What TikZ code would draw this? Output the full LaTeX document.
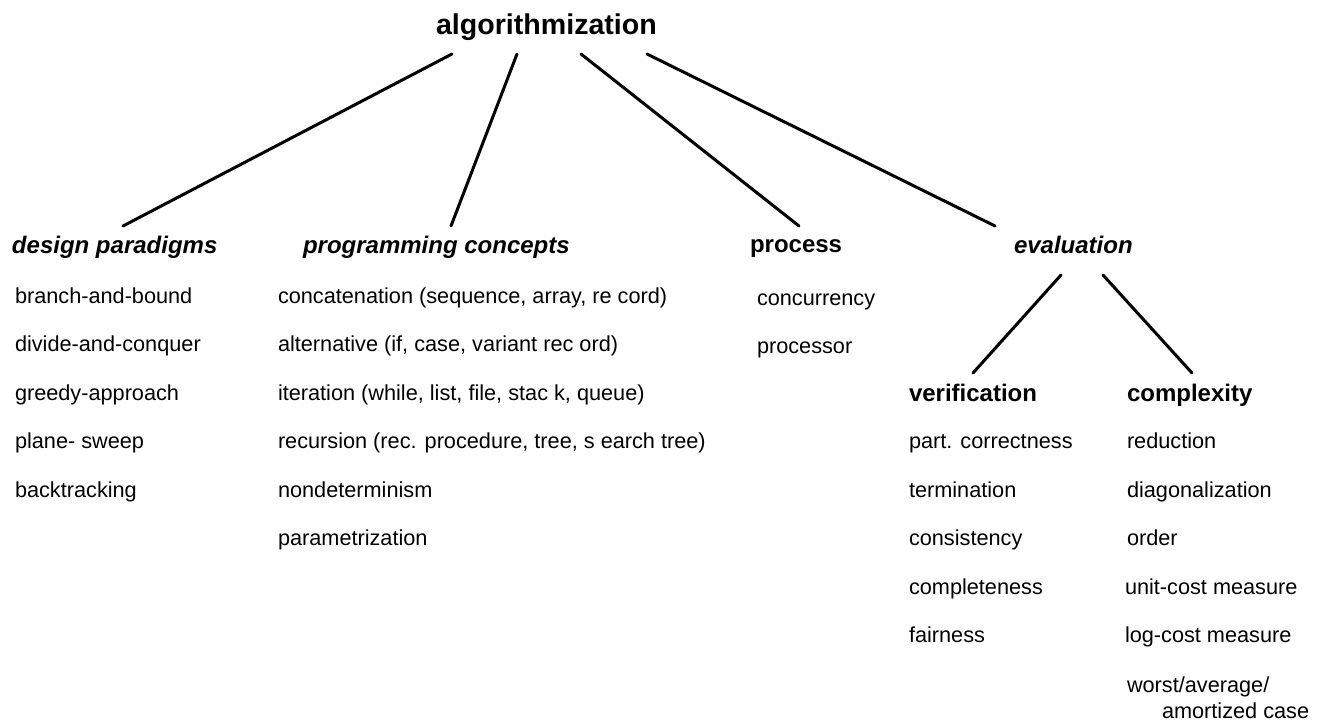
\documentclass[tikz,border=0pt]{standalone}
\usepackage{fontspec}
\setmainfont{Liberation Sans}
\usetikzlibrary{calc}
\tikzset{
  txt/.style={anchor=base west, inner sep=0pt, outer sep=0pt},
  rootlabel/.style={txt, font=\fontsize{28.6}{32}\selectfont\bfseries},
  headit/.style={txt, font=\fontsize{24}{28}\selectfont\bfseries\itshape},
  headup/.style={txt, font=\fontsize{24}{28}\selectfont\bfseries},
  entry/.style={txt, font=\fontsize{21.7}{26}\selectfont},
  branch/.style={line width=3pt, line cap=round}
}
\begin{document}
\begin{tikzpicture}[x=1pt, y=-1pt]
\useasboundingbox (0,0) rectangle (1323,726);

% root
\node[rootlabel] (root) at (436,34) {algorithmization};

% first level
\node[headit] (dp) at (12,253) {design paradigms};
\node[headit] (pc) at (303,253) {programming concepts};
\node[headup] (pr) at (750,252) {process};
\node[headit] (ev) at (1014,253) {evaluation};

% second level under evaluation
\node[headup] (ve) at (909,401) {verification};
\node[headup] (co) at (1127,401) {complexity};

% connectors
\draw[branch] ($(root.base west)+(16,20)$)  -- ($(dp.base west)+(111,-27)$);
\draw[branch] ($(root.base west)+(81,20)$)  -- ($(pc.base west)+(148,-27)$);
\draw[branch] ($(root.base west)+(145,20)$) -- ($(pr.base west)+(49,-26)$);
\draw[branch] ($(root.base west)+(211,20)$) -- ($(ev.base west)+(-19,-27)$);
\draw[branch] ($(ev.base west)+(47,22)$) -- ($(ve.base west)+(64,-28)$);
\draw[branch] ($(ev.base west)+(89,22)$) -- ($(co.base west)+(65,-28)$);

% design paradigms
\node[entry] (dp1) at (15,303)   {branch-and-bound};
\node[entry] (dp2) at (15,351.5) {divide-and-conquer};
\node[entry] (dp3) at (15,400)   {greedy-approach};
\node[entry] (dp4) at (15,448.5) {plane- sweep};
\node[entry] (dp5) at (15,497)   {backtracking};

% programming concepts
\node[entry] (pc1) at (278,303)   {concatenation (sequence, array, re cord)};
\node[entry] (pc2) at (278,351.5) {alternative (if, case, variant rec ord)};
\node[entry] (pc3) at (278,400)   {iteration (while, list, file, stac k, queue)};
\node[entry] (pc4) at (278,448.5) {recursion (rec. procedure, tree, s earch tree)};
\node[entry] (pc5) at (278,497)   {nondeterminism};
\node[entry] (pc6) at (278,545.5) {parametrization};

% process
\node[entry] (pr1) at (757,305)   {concurrency};
\node[entry] (pr2) at (757,353.5) {processor};

% verification
\node[entry] (ve1) at (909,448.5) {part. correctness};
\node[entry] (ve2) at (909,497)   {termination};
\node[entry] (ve3) at (909,545.5) {consistency};
\node[entry] (ve4) at (909,594)   {completeness};
\node[entry] (ve5) at (909,642.5) {fairness};

% complexity
\node[entry] (co1) at (1127,448.5) {reduction};
\node[entry] (co2) at (1127,497)   {diagonalization};
\node[entry] (co3) at (1127,545.5) {order};
\node[entry] (co4) at (1125,594)   {unit-cost measure};
\node[entry] (co5) at (1125,642)   {log-cost measure};
\node[entry] (co6) at (1127,692)   {worst/average/};
\node[entry] (co7) at (1162,718)   {amortized case};
\end{tikzpicture}
\end{document}
